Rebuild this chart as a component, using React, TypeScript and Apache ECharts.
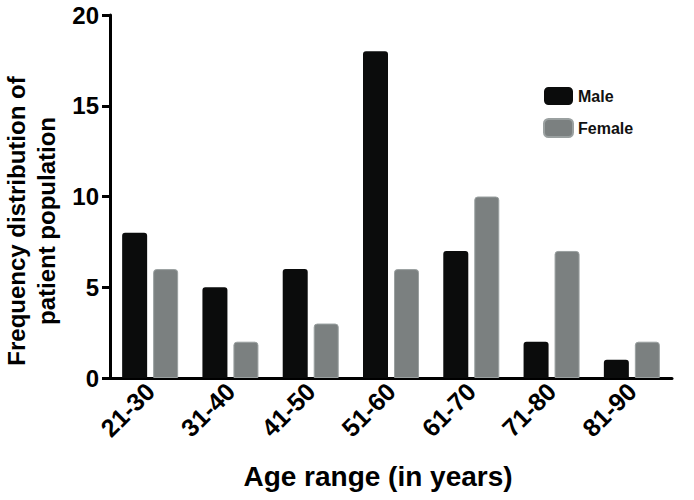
import React, { useEffect, useRef } from "react";
import * as echarts from "echarts";

const categories = ["21-30", "31-40", "41-50", "51-60", "61-70", "71-80", "81-90"];
const maleValues = [8, 5, 6, 18, 7, 2, 1];
const femaleValues = [6, 2, 3, 6, 10, 7, 2];
const seriesNames = ["Male", "Female"];
const yAxisTitle = ["Frequency distribution of", "patient population"];
const xAxisTitle = "Age range (in years)";

export default function App() {
  const ref = useRef<HTMLDivElement>(null);
  useEffect(() => {
    if (!ref.current) return;
    const chart = echarts.init(ref.current, undefined, { renderer: "svg" });
    const font = "Liberation Sans, Arial, sans-serif";
    chart.setOption({
      animation: false,
      backgroundColor: "#ffffff",
      grid: { left: 110, right: 22, top: 15, bottom: 122, containLabel: false },
      legend: {
        orient: "vertical",
        left: 538,
        top: 82,
        itemWidth: 29,
        itemHeight: 18,
        itemGap: 13,
        icon: "roundRect",
        textStyle: { fontFamily: font, fontSize: 16, fontWeight: "bold", color: "#111" },
        data: seriesNames,
      },
      xAxis: {
        type: "category",
        data: categories,
        boundaryGap: true,
        axisLine: { lineStyle: { color: "#000", width: 3 } },
        axisTick: { alignWithLabel: true, interval: 0, length: 8, lineStyle: { color: "#000", width: 3 } },
        axisLabel: {
          interval: 0,
          rotate: 45,
          margin: 9,
          fontFamily: font,
          fontSize: 25,
          fontWeight: "bold",
          color: "#000",
        },
      },
      yAxis: {
        type: "value",
        min: 0,
        max: 20,
        interval: 5,
        splitLine: { show: false },
        axisLine: { show: true, lineStyle: { color: "#000", width: 3 } },
        axisTick: { show: true, length: 8, lineStyle: { color: "#000", width: 3 } },
        axisLabel: { fontFamily: font, fontSize: 24, fontWeight: "bold", color: "#000", margin: 11 },
      },
      graphic: [
        {
          type: "text",
          x: 31,
          y: 221,
          rotation: Math.PI / 2,
          style: {
            text: yAxisTitle.join("\n"),
            fontFamily: font,
            fontSize: 24,
            fontWeight: "bold",
            fill: "#000",
            align: "center",
            verticalAlign: "middle",
            lineHeight: 30,
          },
        },
        {
          type: "text",
          x: 378,
          y: 476,
          style: {
            text: xAxisTitle,
            fontFamily: font,
            fontSize: 28,
            fontWeight: "bold",
            fill: "#000",
            align: "center",
            verticalAlign: "middle",
          },
        },
      ],
      series: [
        {
          name: seriesNames[0],
          type: "bar",
          data: maleValues,
          barWidth: 25,
          barGap: "24%",
          itemStyle: { color: "#0b0c0c", borderRadius: [3, 3, 0, 0] },
        },
        {
          name: seriesNames[1],
          type: "bar",
          data: femaleValues,
          barWidth: 25,
          barGap: "24%",
          itemStyle: { color: "#7b8080", borderColor: "#9aa0a0", borderWidth: 1, borderRadius: [3, 3, 0, 0] },
        },
      ],
    });
    return () => chart.dispose();
  }, []);
  return <div ref={ref} style={{ width: 694, height: 500, position: "absolute", left: 0, top: 0 }} />;
}
